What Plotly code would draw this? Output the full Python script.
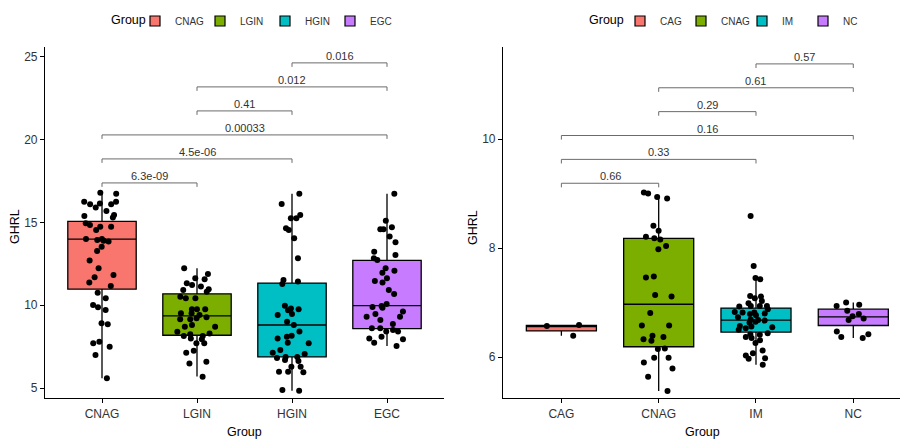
import plotly.graph_objects as go

# ---------------- data ----------------
left_groups = ["CNAG", "LGIN", "HGIN", "EGC"]
right_groups = ["CAG", "CNAG", "IM", "NC"]
colors = ["#F8766D", "#7CAE00", "#00BFC4", "#C77CFF"]

# left panel points (GHRL)
left_CNAG = [16.73, 16.8, 16.15, 16.1, 15.9, 16.25, 16.1, 16.25, 15.4, 15.7, 15.45, 15.3,
             14.85, 14.75, 14.75, 14.55, 14.95, 14.0, 13.95, 13.85, 13.9, 14.0, 13.54, 13.28,
             12.7, 12.24, 11.83, 11.69, 11.37, 11.17, 10.76, 10.42, 10.02, 9.88, 9.72, 8.91,
             8.85, 7.80, 7.70, 7.50, 7.0, 5.59]
left_LGIN = [12.24, 11.89, 11.63, 11.57, 11.23, 11.13, 11.33, 10.97, 10.93, 10.82, 10.42, 10.52,
             10.42, 9.76, 9.76, 9.76, 9.52, 9.52, 9.42, 9.15, 9.21, 9.27, 9.15, 8.81, 8.71, 8.71,
             8.3, 8.15, 8.25, 8.15, 8.4, 7.95, 8.0, 7.70, 7.70, 7.26, 7.14, 6.59, 6.49, 5.69]
left_HGIN = [16.73, 16.12, 15.26, 15.46, 15.26, 14.65, 14.55, 14.05, 12.84, 11.53, 11.43, 11.29,
             9.76, 9.8, 9.97, 9.7, 9.42, 9.48, 9.01, 8.81, 8.41, 8.1, 8.16, 8.0, 7.7, 7.74, 7.30,
             7.14, 7.06, 6.7, 6.82, 6.87, 6.87, 6.63, 6.29, 6.29, 5.99, 5.99, 5.95, 4.88, 4.84]
left_EGC = [16.73, 15.11, 14.71, 14.59, 14.59, 14.15, 13.81, 13.24, 13.04, 12.74, 12.84, 12.24,
            11.97, 12.09, 11.63, 11.47, 11.37, 10.93, 10.68, 10.08, 9.9, 9.95, 9.85, 9.48, 9.62,
            9.31, 9.31, 9.11, 8.87, 8.61, 8.51, 8.61, 8.41, 8.41, 8.0, 7.95, 8.1, 7.74, 7.54]

# right panel points (GHRL)
right_CAG = [6.59, 6.57, 6.39]
right_CNAG = [9.02, 8.94, 8.91, 9.0, 8.41, 8.32, 8.18, 8.16, 8.21, 7.98, 8.04, 7.48, 7.46, 7.11,
              7.14, 6.81, 6.58, 6.58, 6.39, 6.33, 6.37, 6.30, 6.16, 6.15, 5.99, 5.99, 5.90, 5.79,
              5.64, 5.38]
right_IM = [8.59, 7.67, 7.45, 7.43, 7.12, 7.11, 7.08, 7.03, 6.99, 6.94, 6.94, 6.94, 6.88, 6.93,
            6.82, 6.83, 6.79, 6.80, 6.82, 6.77, 6.68, 6.73, 6.69, 6.67, 6.63, 6.65, 6.53, 6.50,
            6.56, 6.55, 6.57, 6.42, 6.41, 6.37, 6.44, 6.31, 6.26, 6.35, 6.07, 6.12, 6.03, 5.97,
            5.98, 5.86]
right_NC = [7.0, 6.96, 6.94, 6.85, 6.79, 6.75, 6.71, 6.68, 6.47, 6.37, 6.42, 6.35]

left_points = [left_CNAG, left_LGIN, left_HGIN, left_EGC]
right_points = [right_CAG, right_CNAG, right_IM, right_NC]

# box statistics
left_q1 = [10.97, 8.19, 6.88, 8.59]
left_med = [13.99, 9.36, 8.81, 9.98]
left_q3 = [15.07, 10.69, 11.34, 12.71]
left_lo = [5.59, 5.70, 4.84, 7.54]
left_hi = [16.8, 12.24, 16.73, 16.73]

right_q1 = [6.48, 6.19, 6.46, 6.58]
right_med = [6.57, 6.97, 6.68, 6.74]
right_q3 = [6.58, 8.18, 6.90, 6.88]
right_lo = [6.39, 5.38, 5.86, 6.35]
right_hi = [6.59, 8.96, 7.45, 7.0]

# pairwise comparisons (bottom to top)
left_pairs = [("CNAG", "LGIN"), ("CNAG", "HGIN"), ("CNAG", "EGC"),
              ("LGIN", "HGIN"), ("LGIN", "EGC"), ("HGIN", "EGC")]
left_p = ["6.3e-09", "4.5e-06", "0.00033", "0.41", "0.012", "0.016"]
right_pairs = [("CAG", "CNAG"), ("CAG", "IM"), ("CAG", "NC"),
               ("CNAG", "IM"), ("CNAG", "NC"), ("IM", "NC")]
right_p = ["0.66", "0.33", "0.16", "0.29", "0.61", "0.57"]

# ---------------- figure ----------------
W, H = 901, 439
FONT = "Liberation Sans, Arial, sans-serif"
fig = go.Figure()


def add_panel(groups, pts, q1, med, q3, lo, hi, xa, ya, legend_name):
    for i, g in enumerate(groups):
        fig.add_trace(go.Box(
            x=[g], q1=[q1[i]], median=[med[i]], q3=[q3[i]],
            lowerfence=[lo[i]], upperfence=[hi[i]],
            name=g, fillcolor=colors[i], line=dict(color="black", width=1.3),
            width=0.72, whiskerwidth=0, boxpoints=False, showlegend=False,
            xaxis=xa, yaxis=ya, hoverinfo="skip"))
    for i, g in enumerate(groups):
        fig.add_trace(go.Box(
            x=[g] * len(pts[i]), y=pts[i], name=g,
            boxpoints="all", jitter=0.65, pointpos=0, width=0.72,
            fillcolor="rgba(0,0,0,0)", line=dict(color="rgba(0,0,0,0)", width=0),
            marker=dict(color="black", size=6), showlegend=False,
            xaxis=xa, yaxis=ya, hoveron="points"))
    # legend keys
    for i, g in enumerate(groups):
        fig.add_trace(go.Scatter(
            x=[None], y=[None], mode="markers", name=g,
            marker=dict(symbol="square", size=10, color=colors[i],
                        line=dict(color="black", width=1.2)),
            xaxis=xa, yaxis=ya, legend=legend_name, hoverinfo="skip"))


add_panel(left_groups, left_points, left_q1, left_med, left_q3, left_lo, left_hi,
          "x", "y", "legend")
add_panel(right_groups, right_points, right_q1, right_med, right_q3, right_lo, right_hi,
          "x2", "y2", "legend2")


def add_brackets(groups, pairs, labels, base, step, tip, xa, ya):
    for k, (a, b) in enumerate(pairs):
        yv = base + k * step
        fig.add_trace(go.Scatter(
            x=[a, a, b, b], y=[yv - tip, yv, yv, yv - tip], mode="lines",
            line=dict(color="#6b6b6b", width=1), showlegend=False, hoverinfo="skip",
            xaxis=xa, yaxis=ya))
        xm = (groups.index(a) + groups.index(b)) / 2
        fig.add_annotation(x=xm, y=yv, xref=xa, yref=ya, text=labels[k],
                           showarrow=False, yanchor="bottom", yshift=-1,
                           font=dict(family=FONT, size=11, color="#333333"))


add_brackets(left_groups, left_pairs, left_p, 17.39, 1.45, 0.24, "x", "y")
add_brackets(right_groups, right_pairs, right_p, 9.19, 0.438, 0.075, "x2", "y2")

ydom = [41 / H, 392 / H]
axis_common = dict(showline=True, linecolor="black", linewidth=1.2, ticks="outside",
                   ticklen=4, tickcolor="black", tickwidth=1.1, showgrid=False,
                   zeroline=False, tickfont=dict(family=FONT, size=12, color="#333333"))

legend_common = dict(orientation="h", yanchor="middle", xanchor="left",
                     font=dict(family=FONT, size=10, color="#333333"),
                     bgcolor="rgba(0,0,0,0)", itemclick=False, itemdoubleclick=False,
                     entrywidthmode="pixels", itemwidth=30)

fig.update_layout(
    width=W, height=H, margin=dict(l=0, r=0, t=0, b=0),
    paper_bgcolor="white", plot_bgcolor="white", boxmode="overlay",
    font=dict(family=FONT, size=12, color="black"),
    xaxis=dict(domain=[45 / W, 444 / W], type="category", categoryorder="array",
               categoryarray=left_groups, range=[-0.6, 3.6], anchor="y", **axis_common),
    yaxis=dict(domain=ydom, range=[4.4, 25.6], tickvals=[5, 10, 15, 20, 25],
               anchor="x", **axis_common),
    xaxis2=dict(domain=[503 / W, 900 / W], type="category", categoryorder="array",
                categoryarray=right_groups, range=[-0.6, 3.48], anchor="y2", **axis_common),
    yaxis2=dict(domain=ydom, range=[5.25, 11.69], tickvals=[6, 8, 10],
                anchor="x2", **axis_common),
    legend=dict(x=135 / W, y=1 - 21 / H, entrywidth=20, **legend_common),
    legend2=dict(x=620 / W, y=1 - 21 / H, entrywidth=16, **legend_common),
)

# legend titles and axis titles
for xp, yp, txt, ang, fs in [(128, 20, "Group", 0, 12.5), (606, 20, "Group", 0, 12.5),
                             (15, 227, "GHRL", -90, 12.5), (473, 227, "GHRL", -90, 12.5),
                             (245, 432, "Group", 0, 12.5), (702, 432, "Group", 0, 12.5)]:
    fig.add_annotation(x=xp / W, y=1 - yp / H, xref="paper", yref="paper", text=txt,
                       showarrow=False, textangle=ang, xanchor="center", yanchor="middle",
                       font=dict(family=FONT, size=fs, color="black"))

fig.write_html("out.html", config={"displayModeBar": False})
